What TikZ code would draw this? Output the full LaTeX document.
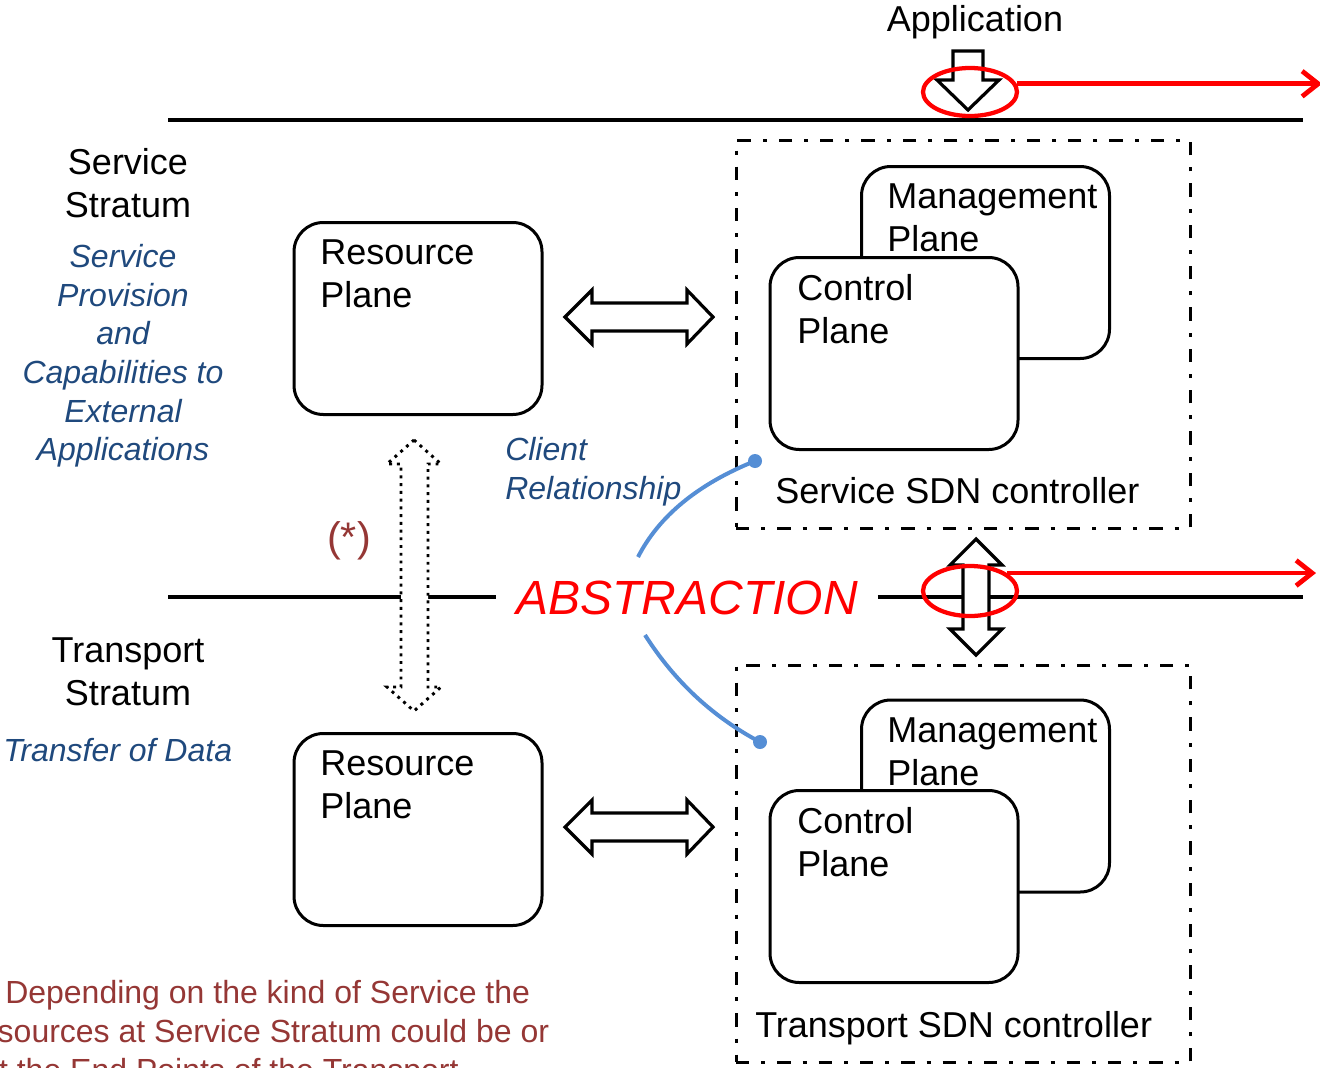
\documentclass[tikz,border=0pt]{standalone}
\usepackage{fontspec}
\setmainfont{Liberation Sans}
\usetikzlibrary{arrows.meta,shapes.geometric}
\definecolor{txtblue}{RGB}{31,73,125}
\definecolor{darkred}{RGB}{149,55,53}
\definecolor{linkblue}{RGB}{85,142,213}
\newcommand\fbig{\fontsize{27}{32.5}\selectfont}
\newcommand\fmid{\fontsize{24}{29}\selectfont}
\begin{document}
\begin{tikzpicture}[x=0.75pt,y=-0.75pt,
  planebox/.style={draw, line width=2.25pt, rounded corners=22pt, fill=white,
    minimum width=186pt, minimum height=144pt, inner sep=0pt},
  ctrlbox/.style={draw, line width=2.25pt, dash pattern=on 10pt off 9pt on 3pt off 9pt,
    minimum width=340.5pt, inner sep=0pt},
  lbl/.style={font=\fbig, align=left, inner sep=0pt, anchor=north west},
  bluelbl/.style={font=\fmid\itshape, text=txtblue, inner sep=0pt},
  redlbl/.style={font=\fmid, text=darkred, inner sep=0pt, anchor=north west},
  stratline/.style={line width=2.4pt},
  blockarrow/.style={draw, line width=2.4pt, fill=white, line join=miter},
  dotarrow/.style={draw, line width=2.2pt, fill=white, dash pattern=on 2.2pt off 3.6pt},
  redring/.style={draw=red, line width=3.2pt, ellipse, inner sep=0pt, minimum width=70.5pt},
  redarrow/.style={draw=red, line width=3.6pt, -{Straight Barb[length=12pt,width=19pt]}},
  linkline/.style={draw=linkblue, line width=3pt},
  linkdot/.style={circle, fill=linkblue, inner sep=0pt, minimum size=10.5pt}]
\useasboundingbox (0,0) rectangle (1320,1067);
\clip (0,0) rectangle (1320,1067);

% stratum lines
\coordinate (tl) at (168,120);
\coordinate (tr) at (1303,120);
\draw[stratline] (tl) -- (tr);
\coordinate (ml) at (168,597);
\coordinate (mr) at (1303,597);
\node[font=\fontsize{36}{40}\selectfont\itshape, text=red, inner xsep=15pt, inner ysep=0pt] (abs) at (687,598) {ABSTRACTION};
\draw[stratline] (ml) -- (abs.west |- ml);
\draw[stratline] (abs.east |- mr) -- (mr);

% application
\node[font=\fbig, inner sep=0pt, anchor=north] (app) at (975,5) {Application};
\draw[blockarrow] (953,51) -- (983,51) -- (983,80) -- (999,80) -- (968,110) -- (937,80) -- (953,80) -- cycle;

% controller boxes
\node[ctrlbox, minimum height=291pt] (sbox) at (963,334) {};
\node[ctrlbox, minimum height=297.75pt] (tbox) at (963,863.5) {};

% service stratum planes
\node[planebox] (smgmt) at (985.5,262.5) {};
\node[lbl] (smgmtt) at (887,183) {Management\\Plane};
\node[planebox] (sctrl) at (894,353.5) {};
\node[lbl] (sctrlt) at (797,274) {Control\\Plane};
\node[lbl] (ssdn) at (775,477) {Service SDN controller};
\node[planebox] (srp) at (418,318.5) {};
\node[lbl] (srpt) at (320,239) {Resource\\Plane};

% transport stratum planes
\node[planebox] (tmgmt) at (985.5,796) {};
\node[lbl] (tmgmtt) at (887,717) {Management\\Plane};
\node[planebox] (tctrl) at (894,886.5) {};
\node[lbl] (tctrlt) at (797,807) {Control\\Plane};
\node[lbl] (tsdn) at (755,1011) {Transport SDN controller};
\node[planebox] (trp) at (418,829.5) {};
\node[lbl] (trpt) at (320,750) {Resource\\Plane};

% horizontal double block arrows
\draw[blockarrow] (565,317) -- (592,290) -- (592,303) -- (687,303) -- (687,290) -- (713,317)
  -- (687,344) -- (687,331) -- (592,331) -- (592,344) -- cycle;
\draw[blockarrow, shift={(0,510)}] (565,317) -- (592,290) -- (592,303) -- (687,303) -- (687,290) -- (713,317)
  -- (687,344) -- (687,331) -- (592,331) -- (592,344) -- cycle;

% vertical double block arrow between controllers
\draw[blockarrow] (976,539) -- (1002,565) -- (989,565) -- (989,629) -- (1002,629) -- (976,655)
  -- (950,629) -- (963,629) -- (963,565) -- (950,565) -- cycle;

% dotted double arrow between resource planes
\draw[dotarrow] (414,440) -- (441,464) -- (428,464) -- (428,687) -- (441,687) -- (414,711)
  -- (387,687) -- (401,687) -- (401,464) -- (387,464) -- cycle;
\node[font=\fontsize{31}{36}\selectfont, text=darkred, inner sep=0pt] (star) at (349,541) {(*)};

% left labels
\node[font=\fbig, align=center, inner sep=0pt, anchor=north] (sstr) at (128,148) {Service\\Stratum};
\node[bluelbl, align=center, anchor=north] (sdesc) at (123,244) {Service\\Provision\\and\\Capabilities to\\External\\Applications};
\node[font=\fbig, align=center, inner sep=0pt, anchor=north] (tstr) at (128,637) {Transport\\Stratum};
\node[bluelbl, anchor=north west] (tdesc) at (3,738) {Transfer of Data};
\node[bluelbl, align=left, anchor=north west] (client) at (505,437) {Client\\Relationship};

% client relationship links
\node[linkdot] (d1) at (755,461) {};
\node[linkdot] (d2) at (760,742) {};
\coordinate (c1) at (638,557);
\coordinate (c2) at (645,635);
\draw[linkline] (c1) .. controls (659,516) and (698,484) .. (d1.center);
\draw[linkline] (c2) .. controls (675,682) and (713,717) .. (d2.center);

% red rings and arrows
\node[redring, minimum height=36pt] (e1) at (970,92) {};
\node[redring, minimum height=37.5pt] (e2) at (970,591) {};
\coordinate (r1end) at (1322,84);
\coordinate (r2end) at (1316,574);
\draw[redarrow] (e1.10) -- (e1.10 -| r1end);
\draw[redarrow] (e2.26) -- (e2.26 -| r2end);

% footnote (cut at picture edge)
\node[redlbl] (fn1) at (5,980) {Depending on the kind of Service the};
\node[redlbl] (fn2) at (-31,1019) {resources at Service Stratum could be or};
\node[redlbl] (fn3) at (-19,1058) {at the End Points of the Transport};
\end{tikzpicture}
\end{document}
